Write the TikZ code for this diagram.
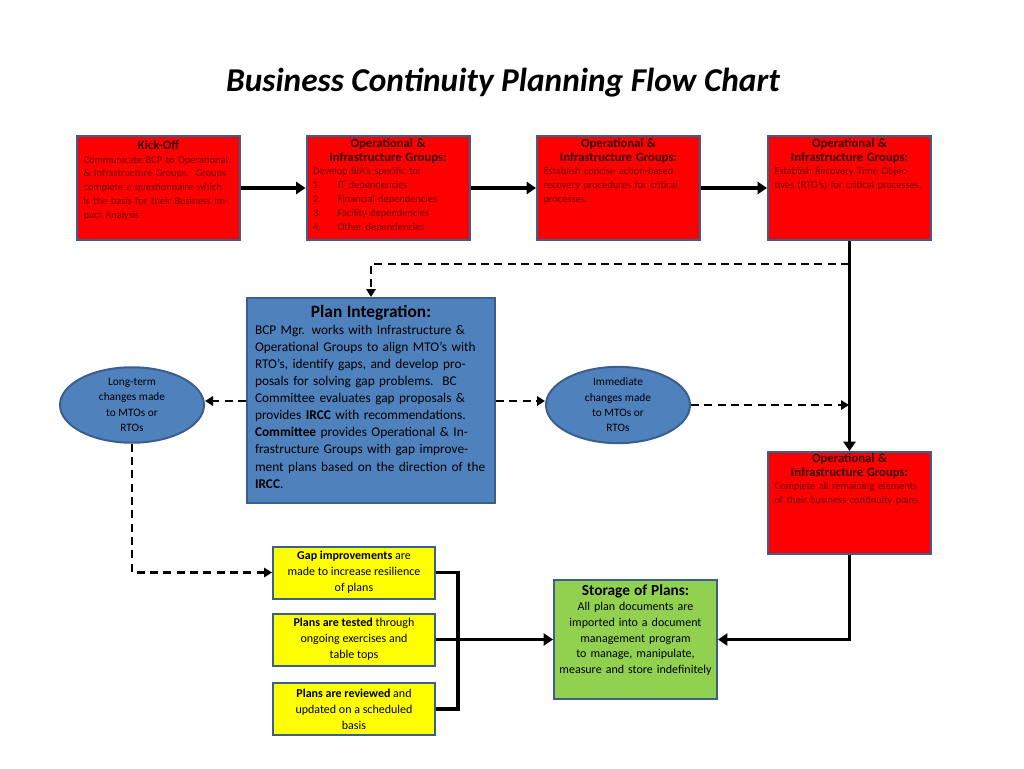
\documentclass[tikz,border=0pt]{standalone}
\usepackage{fontspec}
\setmainfont{Carlito}
\usetikzlibrary{arrows.meta,shapes.geometric}
\definecolor{bred}{HTML}{FF0000}
\definecolor{bord}{HTML}{3A5F8F}
\definecolor{bblue}{HTML}{4F81BD}
\definecolor{byel}{HTML}{FFFF00}
\definecolor{bgreen}{HTML}{92D050}
\definecolor{rtxt}{HTML}{6A0000}
\begin{document}
\begin{tikzpicture}[x=0.75pt,y=-0.75pt,
  box/.style={draw=bord,line width=1.5pt,minimum width=#1*0.75pt,inner sep=0pt},
  redbox/.style={box=163,fill=bred,minimum height=104*0.75pt},
  yelbox/.style={box=162,fill=byel,minimum height=52*0.75pt},
  txt/.style={anchor=north,align=left,inner sep=0pt},
  ell/.style={ellipse,draw=bord,line width=1.5pt,fill=bblue,minimum width=144*0.75pt,minimum height=74*0.75pt,align=center,font=\fontsize{8.5}{11.5}\selectfont,inner sep=0pt},
  solid arr/.style={line width=2.6pt,-{Triangle[length=7pt,width=9pt]}},
  dash arr/.style={line width=2pt,dash pattern=on 6pt off 4pt,-{Triangle[length=6pt,width=7pt]}},
  solid line/.style={line width=2.6pt}]
\useasboundingbox (0,0) rectangle (1024,768);
\node at (503,83) {\fontsize{25}{30}\selectfont\bfseries\itshape Business Continuity Planning Flow Chart};

% top red boxes
\node[redbox] (k) at (158.5,188) {};
\node[redbox] (o2) at (388,188) {};
\node[redbox] (o3) at (618.5,188) {};
\node[redbox] (o4) at (849.5,188) {};
\node[txt,text width=150*0.75pt,font=\fontsize{7.8}{10.4}\selectfont,text=rtxt] at ([yshift=-5*0.75pt]k.north)
 {\centering{\fontsize{9.5}{12}\selectfont\bfseries\color{black!80!red}Kick-Off}\par\raggedright Communicate BCP to Operational \& Infrastructure Groups.\ \ Groups complete a questionnaire which is the basis for their Business Impact Analysis};
\node[txt,text width=150*0.75pt,font=\fontsize{7.8}{10.4}\selectfont,text=rtxt] at ([yshift=-3*0.75pt]o2.north)
 {\centering{\fontsize{9.5}{12.3}\selectfont\bfseries\color{black!80!red}Operational \&\\Infrastructure Groups:}\par\raggedright Develop BIA's specific to:\\
 1.\hspace{1.6em}IT dependencies\\2.\hspace{1.6em}Financial dependencies\\3.\hspace{1.6em}Facility dependencies\\4.\hspace{1.6em}Other dependencies};
\node[txt,text width=150*0.75pt,font=\fontsize{7.8}{10.4}\selectfont,text=rtxt] at ([yshift=-3*0.75pt]o3.north)
 {\centering{\fontsize{9.5}{12.3}\selectfont\bfseries\color{black!80!red}Operational \&\\Infrastructure Groups:}\par\raggedright Establish concise action-based recovery procedures for critical processes.};
\node[txt,text width=150*0.75pt,font=\fontsize{7.8}{10.4}\selectfont,text=rtxt] at ([yshift=-3*0.75pt]o4.north)
 {\centering{\fontsize{9.5}{12.3}\selectfont\bfseries\color{black!80!red}Operational \&\\Infrastructure Groups:}\par\raggedright Establish Recovery Time Objectives (RTO's) for critical processes.};

% op5
\node[box=163,fill=bred,minimum height=102*0.75pt] (o5) at (849.5,503) {};
\node[txt,text width=150*0.75pt,font=\fontsize{7.8}{10.4}\selectfont,text=rtxt] at ([yshift=-2*0.75pt]o5.north)
 {\centering{\fontsize{9.5}{12.3}\selectfont\bfseries\color{black!80!red}Operational \&\\Infrastructure Groups:}\par\raggedright Complete all remaining elements of their business continuity plans.};

% plan integration
\node[box=248,fill=bblue,minimum height=205*0.75pt] (pi) at (371,400.5) {};
\node[txt,text width=232*0.75pt,font=\fontsize{10}{12.8}\selectfont] at ([yshift=-8*0.75pt]pi.north)
 {\centering{\fontsize{13}{15}\selectfont\bfseries Plan Integration:}\par\raggedright
 BCP Mgr. works with Infrastructure \& Operational Groups to align MTO's with RTO's, identify gaps, and develop proposals for solving gap problems.\ \ BC Committee evaluates gap proposals \& provides \textbf{IRCC} with recommendations. \textbf{Committee} provides Operational \& Infrastructure Groups with gap improvement plans based on the direction of the \textbf{IRCC}.};

% ellipses
\node[ell] (lt) at (132,405) {Long-term\\changes made\\to MTOs or\\RTOs};
\node[ell] (im) at (618,405) {Immediate\\changes made\\to MTOs or\\RTOs};

% yellow boxes
\node[yelbox,align=center,font=\fontsize{9}{12}\selectfont] (g) at (354,572.5) {\textbf{Gap improvements} are\\made to increase resilience\\of plans};
\node[yelbox,align=center,font=\fontsize{9}{12}\selectfont] (t) at (354,639.5) {\textbf{Plans are tested} through\\ongoing exercises and\\table tops};
\node[yelbox,align=center,font=\fontsize{9}{12}\selectfont] (r) at (354,709) {\textbf{Plans are reviewed} and\\updated on a scheduled\\basis};

% storage
\node[box=163,fill=bgreen,minimum height=119*0.75pt] (s) at (635.5,639.5) {};
\node[txt,text width=155*0.75pt,align=center,font=\fontsize{9}{11.8}\selectfont] at ([yshift=-5*0.75pt]s.north)
 {{\fontsize{11.5}{14}\selectfont\bfseries Storage of Plans:}\\All plan documents are imported into a document management program to manage, manipulate, measure and store indefinitely};

% connectors
\draw[solid arr] (k.east) -- (o2.west);
\draw[solid arr] (o2.east) -- (o3.west);
\draw[solid arr] (o3.east) -- (o4.west);
\draw[solid arr] (o4.south) -- (o5.north);
\coordinate (d1) at (849,264);
\coordinate (d2) at (849,405);
\draw[dash arr] (d1) -| (pi.north);
\draw[dash arr] (pi.west |- 0,401) -- (lt.east |- 0,401);
\draw[dash arr] (pi.east |- 0,401) -- (im.west |- 0,401);
\draw[dash arr] (im.east) -- (d2);
\draw[dash arr] (lt.south) |- (g.west);
\coordinate (bx) at (458,639.5);
\draw[solid line] (g.east) -| (bx);
\draw[solid line] (r.east) -| (bx);
\draw[solid line] (t.east) -- (bx);
\draw[solid arr] (bx) -- (s.west);
\draw[solid arr] (o5.south) |- (s.east);
\end{tikzpicture}
\end{document}
